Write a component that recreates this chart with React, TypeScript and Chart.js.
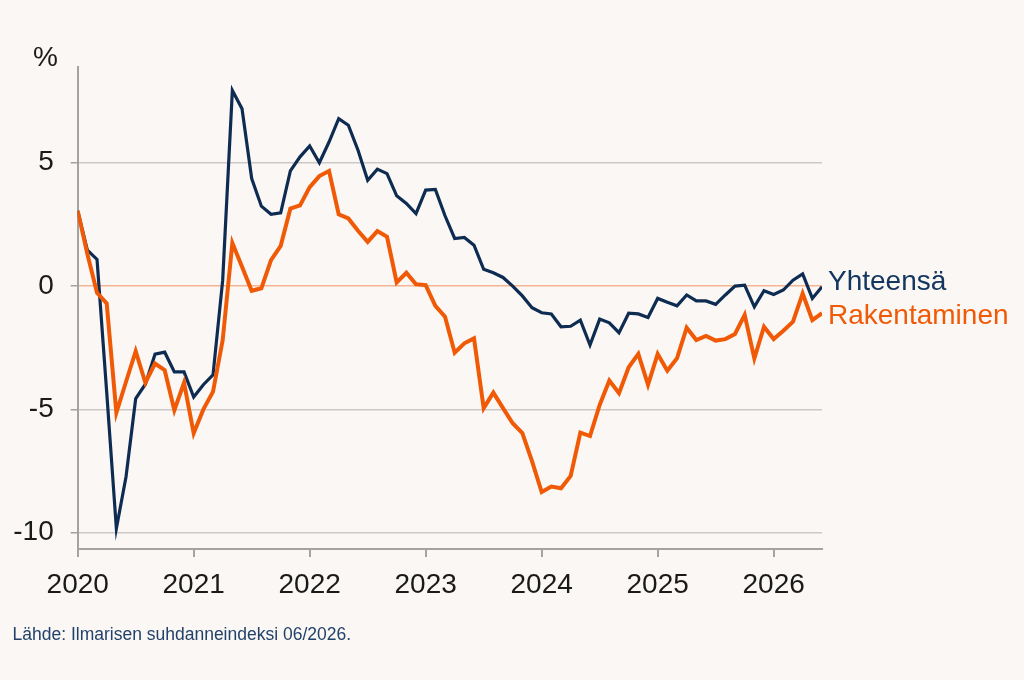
import { useEffect, useRef } from "react";
import { Chart, registerables } from "chart.js";
import type { ChartConfiguration, Plugin } from "chart.js";

Chart.register(...registerables);

// monthly data, Jan 2020 .. Jun 2026
const START_YEAR = 2020;
const yearTicks = [2020, 2021, 2022, 2023, 2024, 2025, 2026];
const valueTicks = [-10, -5, 0, 5];

const yhteensa = [
  3.05, 1.46, 1.08, -4.3, -9.83, -7.73, -4.56, -3.98, -2.76, -2.68, -3.48, -3.48,
  -4.5, -4.0, -3.6, 0.24, 7.93, 7.19, 4.36, 3.24, 2.91, 2.97, 4.67, 5.24,
  5.68, 5.0, 5.84, 6.79, 6.52, 5.51, 4.29, 4.74, 4.56, 3.66, 3.35, 2.94,
  3.89, 3.92, 2.85, 1.93, 1.97, 1.66, 0.68, 0.54, 0.35, 0.0, -0.4, -0.88,
  -1.08, -1.13, -1.65, -1.63, -1.38, -2.39, -1.34, -1.49, -1.89, -1.1, -1.13, -1.27,
  -0.5, -0.66, -0.8, -0.36, -0.6, -0.6, -0.74, -0.36, 0.0, 0.04, -0.84, -0.19,
  -0.34, -0.16, 0.24, 0.49, -0.5, -0.03,
];

const rakentaminen = [
  3.05, 1.3, -0.27, -0.7, -5.14, -3.88, -2.64, -3.92, -3.14, -3.41, -5.03, -3.92,
  -5.97, -5.0, -4.28, -2.19, 1.75, 0.78, -0.19, -0.09, 1.05, 1.63, 3.14, 3.27,
  4.01, 4.46, 4.67, 2.91, 2.74, 2.24, 1.79, 2.23, 2.0, 0.15, 0.54, 0.07,
  0.04, -0.8, -1.24, -2.7, -2.32, -2.12, -4.95, -4.32, -4.95, -5.56, -5.96, -7.1,
  -8.35, -8.13, -8.2, -7.7, -5.94, -6.08, -4.82, -3.83, -4.34, -3.29, -2.75, -4.0,
  -2.75, -3.43, -2.93, -1.69, -2.19, -2.02, -2.21, -2.15, -1.94, -1.17, -2.93, -1.65,
  -2.15, -1.81, -1.44, -0.3, -1.38, -1.1,
];

const FONT = "'Liberation Sans', Arial, sans-serif";
const NAVY = "#0e2c52";
const ORANGE = "#f05a06";
const ZERO_LINE = "#f6b592";
const GRID = "#cbc9c7";
const AXIS = "#a3a3a3";
const TEXT = "#1a1a1a";
const BG = "#faf7f4";

const labelsPlugin: Plugin<"line"> = {
  id: "seriesLabels",
  afterDraw(chart) {
    const { ctx, chartArea, scales } = chart;
    const last = yhteensa.length - 1;
    ctx.save();
    ctx.font = `28px ${FONT}`;
    ctx.textBaseline = "alphabetic";
    ctx.textAlign = "left";
    ctx.fillStyle = "#143760";
    ctx.fillText("Yhteensä", chartArea.right + 6, scales.y.getPixelForValue(yhteensa[last]) + 3.5);
    ctx.fillStyle = ORANGE;
    ctx.fillText("Rakentaminen", chartArea.right + 6, scales.y.getPixelForValue(rakentaminen[last]) + 11);

    ctx.fillStyle = TEXT;
    ctx.textAlign = "center";
    ctx.fillText("%", 45.5, chartArea.top - 1);

    ctx.font = `17.5px ${FONT}`;
    ctx.fillStyle = "#23426a";
    ctx.textAlign = "left";
    ctx.fillText("Lähde: Ilmarisen suhdanneindeksi 06/2026.", 12.5, 640);
    ctx.restore();
  },
};

export default function App() {
  const canvasRef = useRef<HTMLCanvasElement | null>(null);

  useEffect(() => {
    document.body.style.margin = "0";
    document.body.style.background = BG;
    if (!canvasRef.current) return;

    const config: ChartConfiguration<"line"> = {
      type: "line",
      data: {
        datasets: [
          {
            label: "Yhteensä",
            data: yhteensa.map((v, i) => ({ x: i, y: v })),
            borderColor: NAVY,
            borderWidth: 3.2,
            pointRadius: 0,
            tension: 0,
            order: 2,
          },
          {
            label: "Rakentaminen",
            data: rakentaminen.map((v, i) => ({ x: i, y: v })),
            borderColor: ORANGE,
            borderWidth: 4,
            pointRadius: 0,
            tension: 0,
            order: 1,
          },
        ],
      },
      options: {
        animation: false,
        responsive: true,
        maintainAspectRatio: false,
        layout: { padding: { top: 67.3, right: 202, left: 0, bottom: 0 } },
        plugins: {
          legend: { display: false },
          tooltip: { enabled: false },
        },
        scales: {
          x: {
            type: "linear",
            min: 0,
            max: yhteensa.length - 1,
            afterBuildTicks: (s) => {
              s.ticks = yearTicks.map((y) => ({ value: (y - START_YEAR) * 12 }));
            },
            afterFit: (s) => {
              s.height = 680 - 549;
            },
            grid: { drawOnChartArea: false, drawTicks: true, tickLength: 8, color: AXIS, lineWidth: 2 },
            border: { color: AXIS, width: 2 },
            ticks: {
              font: { family: FONT, size: 28 },
              color: TEXT,
              padding: 11,
              maxRotation: 0,
              autoSkip: false,
              callback: (v) => String(START_YEAR + Number(v) / 12),
            },
          },
          y: {
            min: -10.66,
            max: 8.87,
            afterBuildTicks: (s) => {
              s.ticks = valueTicks.map((v) => ({ value: v }));
            },
            afterFit: (s) => {
              s.width = 77.7;
            },
            grid: {
              color: (c) => (c.tick && c.tick.value === 0 ? ZERO_LINE : GRID),
              lineWidth: 1.5,
              tickLength: 7,
              tickColor: AXIS,
            },
            border: { color: AXIS, width: 2 },
            ticks: {
              font: { family: FONT, size: 28 },
              color: TEXT,
              padding: 17,
              callback: (v) => String(v),
            },
          },
        },
      },
      plugins: [labelsPlugin],
    };

    const chart = new Chart(canvasRef.current, config);
    return () => chart.destroy();
  }, []);

  return (
    <div style={{ width: 1024, height: 680, position: "relative", background: BG }}>
      <canvas ref={canvasRef} />
    </div>
  );
}
